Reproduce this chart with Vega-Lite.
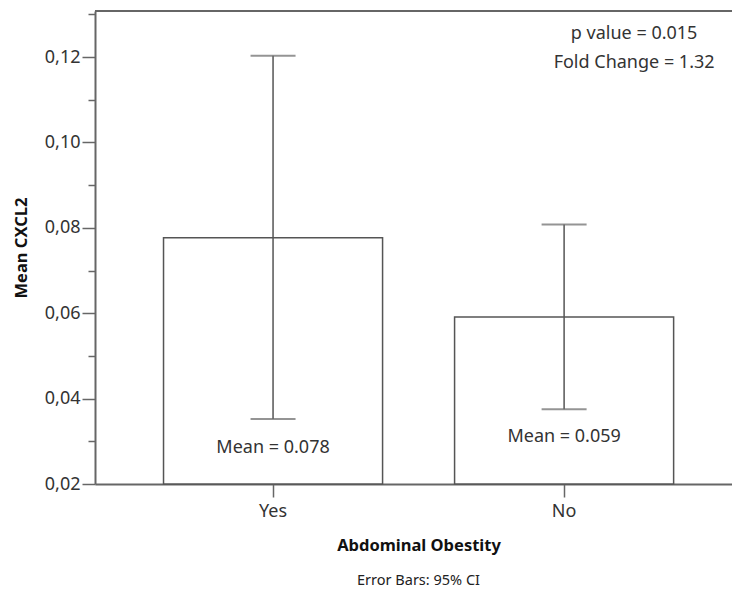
{
  "$schema": "https://vega.github.io/schema/vega-lite/v6.json",
  "width": 637,
  "height": 473,
  "autosize": {"type": "none"},
  "padding": {"left": 95, "top": 11, "right": 0, "bottom": 107},
  "background": "white",
  "config": {"view": {"stroke": null}, "font": "Noto Sans"},
  "title": {"text": "Error Bars: 95% CI", "orient": "bottom", "anchor": "middle", "frame": "group", "fontSize": 14.5, "fontWeight": "normal", "color": "#222", "offset": 20, "dx": 5},
  "datasets": {
    "bars": [
      {"group": "Yes", "mean": 0.0777, "lower": 0.0352, "upper": 0.1203, "label": "Mean = 0.078", "label_y": 0.0285},
      {"group": "No", "mean": 0.0591, "lower": 0.0375, "upper": 0.0808, "label": "Mean = 0.059", "label_y": 0.0309}
    ],
    "notes": [
      {"group": "No", "text": "p value = 0.015", "y": 0.1253},
      {"group": "No", "text": "Fold Change = 1.32", "y": 0.1187}
    ],
    "frame": [{"top": 0.1308}]
  },
  "layer": [
    {
      "data": {"name": "bars"},
      "mark": {"type": "bar", "fill": "white", "stroke": "#555", "strokeWidth": 1.5},
      "encoding": {
        "x": {"field": "group", "type": "nominal", "sort": ["Yes", "No"],
          "scale": {"paddingInner": 0.2474, "paddingOuter": 0.218, "align": 0.54},
          "axis": {"title": "Abdominal Obestity", "labelAngle": 0, "labelFontSize": 18, "labelColor": "#333",
            "tickSize": 13, "tickColor": "#666", "tickWidth": 1.5, "domainColor": "#666", "domainWidth": 2,
            "labelPadding": 5, "titleFontSize": 16.5, "titleFontWeight": "bold", "titleColor": "#111",
            "titlePadding": 17, "titleX": 323.5}},
        "y": {"field": "mean", "type": "quantitative",
          "scale": {"domain": [0.02, 0.1308], "nice": false, "zero": false},
          "axis": {"title": "Mean CXCL2", "values": [0.02, 0.03, 0.04, 0.05, 0.06, 0.07, 0.08, 0.09, 0.1, 0.11, 0.12, 0.13],
            "labelExpr": "round(datum.value*100) % 2 == 0 ? replace(format(datum.value, '.2f'), '.', ',') : ''",
            "tickSize": {"condition": {"test": "round(datum.value*100) % 2 == 0", "value": 13}, "value": 7},
            "tickColor": "#666", "tickWidth": 1.5, "domainColor": "#666", "domainWidth": 2,
            "grid": false, "labelFontSize": 18, "labelColor": "#333", "labelPadding": 2,
            "titleFontSize": 16.5, "titleFontWeight": "bold", "titleColor": "#111", "titlePadding": 15}},
        "y2": {"datum": 0.02}
      }
    },
    {
      "data": {"name": "bars"},
      "mark": {"type": "rule", "color": "#555", "strokeWidth": 1.5},
      "encoding": {
        "x": {"field": "group", "type": "nominal", "sort": ["Yes", "No"]},
        "y": {"field": "lower", "type": "quantitative", "scale": {"domain": [0.02, 0.1308], "nice": false, "zero": false}},
        "y2": {"field": "upper"}
      }
    },
    {
      "data": {"name": "bars"},
      "mark": {"type": "tick", "orient": "horizontal", "size": 45, "thickness": 2, "color": "#666"},
      "encoding": {
        "x": {"field": "group", "type": "nominal", "sort": ["Yes", "No"]},
        "y": {"field": "upper", "type": "quantitative", "scale": {"domain": [0.02, 0.1308], "nice": false, "zero": false}}
      }
    },
    {
      "data": {"name": "bars"},
      "mark": {"type": "tick", "orient": "horizontal", "size": 45, "thickness": 2, "color": "#666"},
      "encoding": {
        "x": {"field": "group", "type": "nominal", "sort": ["Yes", "No"]},
        "y": {"field": "lower", "type": "quantitative", "scale": {"domain": [0.02, 0.1308], "nice": false, "zero": false}}
      }
    },
    {
      "data": {"name": "bars"},
      "mark": {"type": "text", "fontSize": 18, "color": "#333"},
      "encoding": {
        "x": {"field": "group", "type": "nominal", "sort": ["Yes", "No"]},
        "y": {"field": "label_y", "type": "quantitative", "scale": {"domain": [0.02, 0.1308], "nice": false, "zero": false}},
        "text": {"field": "label"}
      }
    },
    {
      "data": {"name": "notes"},
      "mark": {"type": "text", "fontSize": 18, "color": "#333", "dx": 70},
      "encoding": {
        "x": {"field": "group", "type": "nominal", "sort": ["Yes", "No"]},
        "y": {"field": "y", "type": "quantitative", "scale": {"domain": [0.02, 0.1308], "nice": false, "zero": false}},
        "text": {"field": "text"}
      }
    },
    {
      "data": {"name": "frame"},
      "mark": {"type": "rule", "color": "#666", "strokeWidth": 2},
      "encoding": {
        "y": {"field": "top", "type": "quantitative", "scale": {"domain": [0.02, 0.1308], "nice": false, "zero": false}}
      }
    }
  ]
}
